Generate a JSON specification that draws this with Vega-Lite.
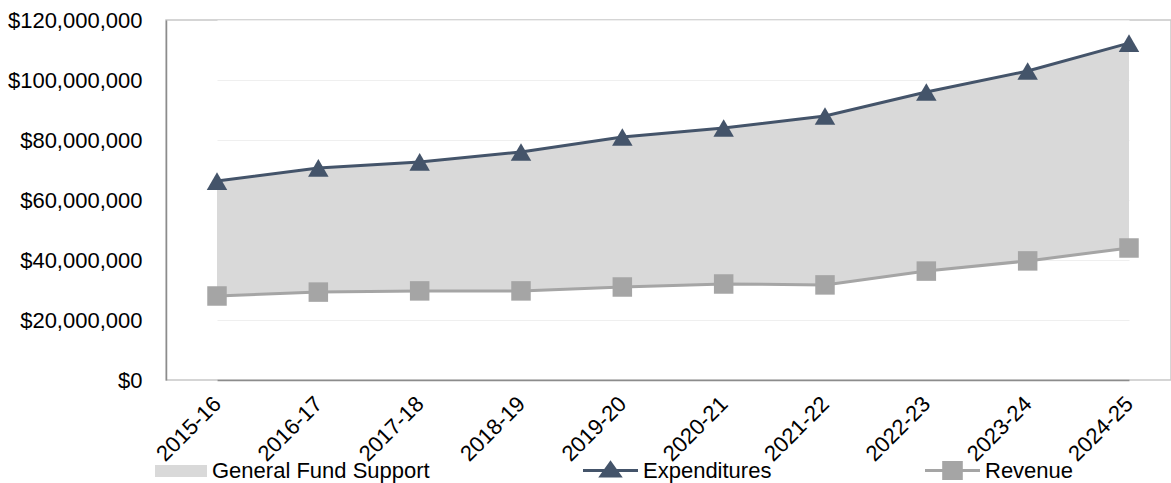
{
  "$schema": "https://vega.github.io/schema/vega-lite/v6.json",
  "width": 1005,
  "height": 360,
  "autosize": "none",
  "padding": {"left": 166, "top": 20, "right": 0, "bottom": 103},
  "background": "white",
  "config": {
    "font": "Liberation Sans",
    "view": {"stroke": "#c8c8c8", "strokeWidth": 1.5},
    "axis": {"labelFont": "Liberation Sans", "labelColor": "#000", "labelFontSize": 22, "ticks": false, "title": null},
    "legend": {"labelFont": "Liberation Sans", "labelFontSize": 22, "labelColor": "#000", "orient": "none", "padding": 0, "title": null, "labelLimit": 400}
  },
  "data": {
    "values": [
      {"year": "2015-16", "Expenditures": 66300000, "Revenue": 28000000},
      {"year": "2016-17", "Expenditures": 70700000, "Revenue": 29300000},
      {"year": "2017-18", "Expenditures": 72700000, "Revenue": 29700000},
      {"year": "2018-19", "Expenditures": 76000000, "Revenue": 29700000},
      {"year": "2019-20", "Expenditures": 81000000, "Revenue": 31000000},
      {"year": "2020-21", "Expenditures": 84000000, "Revenue": 32000000},
      {"year": "2021-22", "Expenditures": 88000000, "Revenue": 31700000},
      {"year": "2022-23", "Expenditures": 96000000, "Revenue": 36300000},
      {"year": "2023-24", "Expenditures": 103000000, "Revenue": 39700000},
      {"year": "2024-25", "Expenditures": 112300000, "Revenue": 44000000}
    ]
  },
  "encoding": {
    "x": {
      "field": "year", "type": "ordinal",
      "scale": {"type": "point", "range": [51, 963], "padding": 0},
      "axis": {"labelAngle": -45, "labelAlign": "right", "labelBaseline": "middle", "labelPadding": 20, "domainColor": "#8c8c8c", "domainWidth": 1.5, "grid": false}
    }
  },
  "layer": [
    {
      "mark": {"type": "area", "opacity": 1},
      "encoding": {
        "y": {
          "field": "Expenditures", "type": "quantitative",
          "scale": {"domain": [0, 120000000], "nice": false},
          "axis": {"values": [0, 20000000, 40000000, 60000000, 80000000, 100000000, 120000000], "format": "$,.0f", "labelPadding": 24, "domainColor": "#8c8c8c", "domainWidth": 1.5, "gridColor": "#efefef", "gridWidth": 1.2}
        },
        "y2": {"field": "Revenue"},
        "color": {
          "datum": "General Fund Support",
          "scale": {"range": ["#d9d9d9"]},
          "legend": {"legendX": 2, "legendY": 438, "symbolType": "M-2,-0.46H2V0.46H-2Z", "symbolSize": 676, "labelOffset": 18, "symbolOpacity": 1, "symbolStrokeWidth": 0}
        }
      }
    },
    {
      "mark": {"type": "line", "strokeWidth": 3, "point": {"shape": "triangle-up", "size": 420, "filled": true, "opacity": 1}},
      "encoding": {
        "y": {"field": "Expenditures", "type": "quantitative"},
        "color": {
          "datum": "Expenditures",
          "scale": {"range": ["#44546a"]},
          "legend": {"legendX": 432, "legendY": 438, "symbolType": "M-2.5,0H2.5M0,-0.7L0.85,0.5H-0.85Z", "symbolSize": 484, "symbolStrokeWidth": 3, "symbolFillColor": "#44546a", "labelOffset": 20}
        }
      }
    },
    {
      "mark": {"type": "line", "strokeWidth": 3, "point": {"shape": "square", "size": 380, "filled": true, "opacity": 1}},
      "encoding": {
        "y": {"field": "Revenue", "type": "quantitative"},
        "color": {
          "datum": "Revenue",
          "scale": {"range": ["#a5a5a5"]},
          "legend": {"legendX": 774, "legendY": 438, "symbolType": "M-2.5,0H2.5M-0.8,-0.72H0.8V0.72H-0.8Z", "symbolSize": 484, "symbolStrokeWidth": 3, "symbolFillColor": "#a5a5a5", "labelOffset": 20}
        }
      }
    }
  ],
  "resolve": {"scale": {"color": "independent"}, "legend": {"color": "independent"}}
}
